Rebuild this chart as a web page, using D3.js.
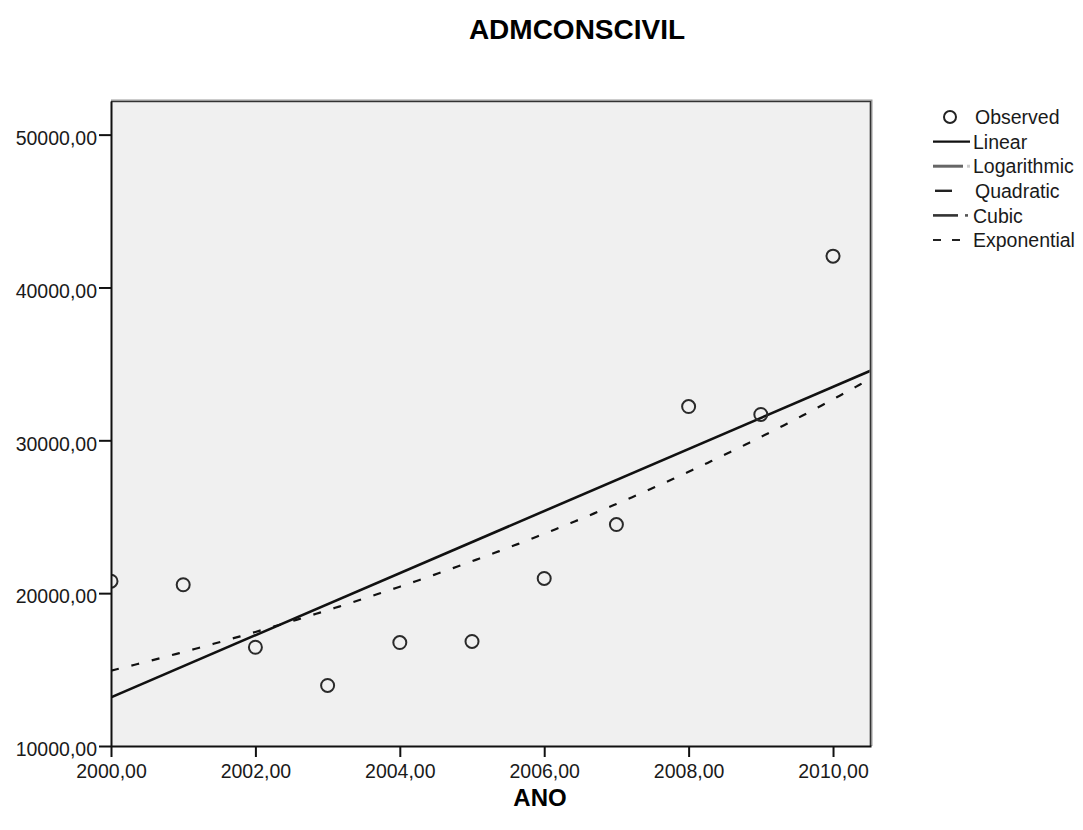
<!DOCTYPE html>
<html>
<head>
<meta charset="utf-8">
<script src="https://cdn.jsdelivr.net/npm/d3@7"></script>
<style>
  body { margin: 0; background: #fff; }
  text { font-family: "Liberation Sans", Arial, sans-serif; fill: #1a1a1a; }
</style>
</head>
<body>
<div id="chart"></div>
<script>
var years = [2000, 2001, 2002, 2003, 2004, 2005, 2006, 2007, 2008, 2009, 2010];
var observed = [20780, 20550, 16460, 13960, 16770, 16840, 20960, 24490, 32210, 31690, 42050];
var xTicks = [2000, 2002, 2004, 2006, 2008, 2010];
var yTicks = [10000, 20000, 30000, 40000, 50000];
var legendNames = ["Observed", "Linear", "Logarithmic", "Quadratic", "Cubic", "Exponential"];

var margin = {top: 101, right: 212, bottom: 84, left: 111},
    width = 1083 - margin.left - margin.right,
    height = 830 - margin.top - margin.bottom;

var x = d3.scaleLinear().domain([2000, 2010.526]).range([0, width]);
var y = d3.scaleLinear().domain([10000, 52200]).range([height, 0]);

var fmt = d3.formatLocale({decimal: ",", thousands: ".", grouping: [3], currency: ["", ""]}).format(".2f");

var root = d3.select("#chart").append("svg")
    .attr("width", 1083)
    .attr("height", 830);

var svg = root.append("g")
    .attr("transform", "translate(" + margin.left + "," + margin.top + ")");

// least squares fits (x centred on 2000)
function linFit(xs, ys) {
  var mx = d3.mean(xs), my = d3.mean(ys);
  var sxy = d3.sum(xs, function(d, i) { return (d - mx) * (ys[i] - my); });
  var sxx = d3.sum(xs, function(d) { return (d - mx) * (d - mx); });
  var b = sxy / sxx;
  return {a: my - b * mx, b: b};
}
var t = years.map(function(d) { return d - 2000; });
var lin = linFit(t, observed);
var ex = linFit(t, observed.map(function(d) { return Math.log(d); }));

// plot background
svg.append("rect")
    .attr("width", width)
    .attr("height", height)
    .style("fill", "#f0f0f0");

svg.append("clipPath").attr("id", "clip")
  .append("rect").attr("width", width).attr("height", height);

var plot = svg.append("g").attr("clip-path", "url(#clip)");

var xs = d3.range(0, 201).map(function(i) { return 2000 + i * 10.526 / 200; });

var linLine = d3.line()
    .x(function(d) { return x(d); })
    .y(function(d) { return y(lin.a + lin.b * (d - 2000)); });
var expLine = d3.line()
    .x(function(d) { return x(d); })
    .y(function(d) { return y(Math.exp(ex.a + ex.b * (d - 2000))); });

plot.append("path")
    .datum(xs)
    .attr("d", expLine)
    .style("fill", "none")
    .style("stroke", "#111")
    .style("stroke-width", 2.2)
    .style("stroke-dasharray", "8,13");

plot.append("path")
    .datum([2000, 2010.526])
    .attr("d", linLine)
    .style("fill", "none")
    .style("stroke", "#111")
    .style("stroke-width", 2.6);

plot.selectAll(".dot")
    .data(observed)
  .enter().append("circle")
    .attr("class", "dot")
    .attr("r", 6.5)
    .attr("cx", function(d, i) { return x(years[i]); })
    .attr("cy", function(d) { return y(d); })
    .style("fill", "none")
    .style("stroke", "#2a2a2a")
    .style("stroke-width", 2);

// frame: top and right edges
svg.append("path")
    .attr("d", "M0,0H" + width + "V" + height)
    .style("fill", "none")
    .style("stroke", "#9a9a9a")
    .style("stroke-width", 3);
svg.append("path")
    .attr("d", "M0,0.5H" + (width - 0.5) + "V" + height)
    .style("fill", "none")
    .style("stroke", "#333")
    .style("stroke-width", 1.2);

// axes
var yAxis = d3.axisLeft(y).tickValues(yTicks).tickFormat(fmt).tickSize(12).tickSizeOuter(0).tickPadding(2);
var xAxis = d3.axisBottom(x).tickValues(xTicks).tickFormat(fmt).tickSize(11).tickSizeOuter(0).tickPadding(7);

var gy = svg.append("g").attr("class", "y axis").call(yAxis);
var gx = svg.append("g").attr("class", "x axis")
    .attr("transform", "translate(0," + height + ")")
    .call(xAxis);

[gx, gy].forEach(function(g) {
  g.selectAll("path").style("stroke", "#111").style("stroke-width", 2);
  g.selectAll("line").style("stroke", "#111").style("stroke-width", 2);
  g.selectAll("text").style("font-size", "19.5px").style("fill", "#1a1a1a").attr("font-family", null);
});
gy.selectAll("text").attr("dy", "0.5em");

// title and axis title
root.append("text")
    .attr("x", 577)
    .attr("y", 39)
    .style("text-anchor", "middle")
    .style("font-weight", "bold")
    .style("font-size", "28px")
    .style("fill", "#000")
    .text("ADMCONSCIVIL");

root.append("text")
    .attr("x", 540)
    .attr("y", 806)
    .style("text-anchor", "middle")
    .style("font-weight", "bold")
    .style("font-size", "24px")
    .style("fill", "#000")
    .text("ANO");

// legend
var legend = root.append("g").attr("transform", "translate(930,117)");
var rows = legend.selectAll(".row")
    .data(legendNames)
  .enter().append("g")
    .attr("class", "row")
    .attr("transform", function(d, i) { return "translate(0," + (i * 24.6) + ")"; });

rows.append("text")
    .attr("x", function(d, i) { return i === 0 || i === 3 ? 45 : 43; })
    .attr("y", 7.2)
    .style("font-size", "19.5px")
    .text(function(d) { return d; });

rows.each(function(d, i) {
  var g = d3.select(this);
  if (i === 0) {
    g.append("circle").attr("cx", 20).attr("cy", 0).attr("r", 6)
      .style("fill", "none").style("stroke", "#222").style("stroke-width", 2);
  } else if (i === 1) {
    g.append("line").attr("x1", 3).attr("x2", 40).style("stroke", "#111").style("stroke-width", 2.2);
  } else if (i === 2) {
    g.append("line").attr("x1", 3).attr("x2", 33).style("stroke", "#666").style("stroke-width", 3);
    g.append("line").attr("x1", 37).attr("x2", 40).style("stroke", "#ccc").style("stroke-width", 3);
  } else if (i === 3) {
    g.append("line").attr("x1", 5).attr("x2", 22).style("stroke", "#222").style("stroke-width", 2.4);
  } else if (i === 4) {
    g.append("line").attr("x1", 3).attr("x2", 28).style("stroke", "#333").style("stroke-width", 2.6);
    g.append("line").attr("x1", 35).attr("x2", 38).style("stroke", "#555").style("stroke-width", 2.6);
  } else {
    g.append("line").attr("x1", 3).attr("x2", 30).style("stroke", "#222").style("stroke-width", 2.2)
      .style("stroke-dasharray", "8,11");
  }
});
</script>
</body>
</html>
